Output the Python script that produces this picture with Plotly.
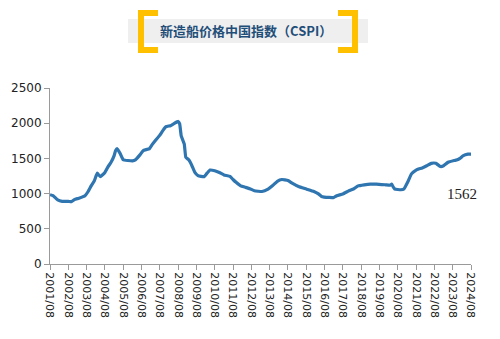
import plotly.graph_objects as go

months = ["2001-08", "2001-10", "2002-01", "2002-04", "2002-08", "2002-10", "2002-12", "2003-03",
          "2003-07", "2003-09", "2003-11", "2004-01", "2004-03", "2004-05", "2004-08", "2004-10",
          "2004-12", "2005-02", "2005-03", "2005-04", "2005-06", "2005-08", "2005-11", "2006-02",
          "2006-04", "2006-07", "2006-09", "2006-11", "2007-01", "2007-03", "2007-05", "2007-08",
          "2007-10", "2007-12", "2008-03", "2008-05", "2008-08", "2008-09", "2008-10", "2008-12",
          "2009-01", "2009-03", "2009-05", "2009-07", "2009-09", "2009-11", "2010-01", "2010-03",
          "2010-05", "2010-08", "2010-11", "2011-02", "2011-06", "2011-08", "2011-10", "2012-01",
          "2012-04", "2012-07", "2012-10", "2013-03", "2013-07", "2013-10", "2014-01", "2014-04",
          "2014-08", "2014-11", "2015-03", "2015-08", "2016-01", "2016-04", "2016-06", "2016-11",
          "2017-02", "2017-04", "2017-08", "2017-12", "2018-03", "2018-06", "2018-10", "2019-02",
          "2019-06", "2019-12", "2020-03", "2020-04", "2020-05", "2020-06", "2020-10", "2020-12",
          "2021-03", "2021-05", "2021-08", "2021-12", "2022-03", "2022-06", "2022-09", "2022-12",
          "2023-02", "2023-05", "2023-09", "2023-11", "2024-01", "2024-03", "2024-06", "2024-08"]
cspi = [985, 970, 910, 890, 890, 885, 915, 935,
        970, 1030, 1110, 1180, 1290, 1240, 1300, 1380,
        1445, 1540, 1610, 1640, 1570, 1480, 1470, 1465,
        1480, 1550, 1610, 1625, 1635, 1695, 1750, 1830,
        1895, 1950, 1965, 1990, 2025, 1990, 1820, 1705,
        1515, 1480, 1400, 1300, 1255, 1245, 1240, 1290,
        1335, 1325, 1300, 1265, 1245, 1200, 1160, 1110,
        1090, 1070, 1040, 1030, 1065, 1115, 1175, 1200,
        1185, 1145, 1100, 1065, 1030, 995, 960, 945,
        945, 970, 995, 1040, 1065, 1110, 1125, 1135,
        1135, 1125, 1120, 1135, 1095, 1065, 1055, 1065,
        1185, 1280, 1335, 1365, 1395, 1430, 1430, 1385,
        1395, 1445, 1470, 1480, 1505, 1540, 1560, 1562]
title_text = "新造船价格中国指数（CSPI）"
last_label = "1562"

fig = go.Figure()
fig.add_trace(go.Scatter(x=[m + "-01" for m in months], y=cspi, mode="lines",
                         line=dict(color="#2f75b0", width=3.2, shape="spline", smoothing=0.3),
                         hoverinfo="skip"))

W, H = 500, 339
L, R, T, B = 50, 471, 88, 264

def px(x):
    return (x - L) / (R - L)

def py(y):
    return (B - y) / (B - T)

shapes = []
# gray title box
shapes.append(dict(type="rect", xref="paper", yref="paper", x0=px(128), x1=px(368), y0=py(43), y1=py(19),
                   fillcolor="#efefef", line=dict(width=0), layer="below"))
yellow = "#FFC000"
for (x0, x1) in [(138, 144), (352, 358)]:
    shapes.append(dict(type="rect", xref="paper", yref="paper", x0=px(x0), x1=px(x1), y0=py(53), y1=py(10),
                       fillcolor=yellow, line=dict(width=0)))
for (x0, x1) in [(138, 158), (338, 358)]:
    for (y0, y1) in [(10, 16), (47, 53)]:
        shapes.append(dict(type="rect", xref="paper", yref="paper", x0=px(x0), x1=px(x1), y0=py(y1), y1=py(y0),
                           fillcolor=yellow, line=dict(width=0)))

annotations = [
    dict(text="<b>" + title_text + "</b>", xref="paper", yref="paper", x=px(246), y=py(31),
         showarrow=False, xanchor="center", yanchor="middle",
         font=dict(family="Noto Sans CJK SC", size=13, color="#1f4e79")),
    dict(text=last_label, xref="paper", yref="paper", x=px(462), y=py(194),
         showarrow=False, xanchor="center", yanchor="middle",
         font=dict(family="Liberation Serif", size=15, color="#222222")),
]

fig.update_layout(
    width=W, height=H,
    margin=dict(l=L, r=W - R, t=T, b=H - B, pad=0),
    paper_bgcolor="white", plot_bgcolor="white",
    showlegend=False,
    shapes=shapes, annotations=annotations,
    xaxis=dict(type="date", range=["2001-08-01", "2024-08-01"], tick0="2001-08-01", dtick="M12",
               tickformat="%Y/%m", tickangle=90, showgrid=False, zeroline=False,
               showline=True, linecolor="#9a9a9a", linewidth=1,
               ticks="outside", ticklen=5, tickcolor="#9a9a9a",
               tickfont=dict(family="DejaVu Sans", size=11, color="#222222")),
    yaxis=dict(range=[0, 2500], tick0=0, dtick=500, showgrid=False, zeroline=False,
               showline=True, linecolor="#9a9a9a", linewidth=1,
               ticks="outside", ticklen=5, tickcolor="#9a9a9a",
               tickfont=dict(family="DejaVu Sans", size=12, color="#222222")),
)

fig.write_html("out.html")
